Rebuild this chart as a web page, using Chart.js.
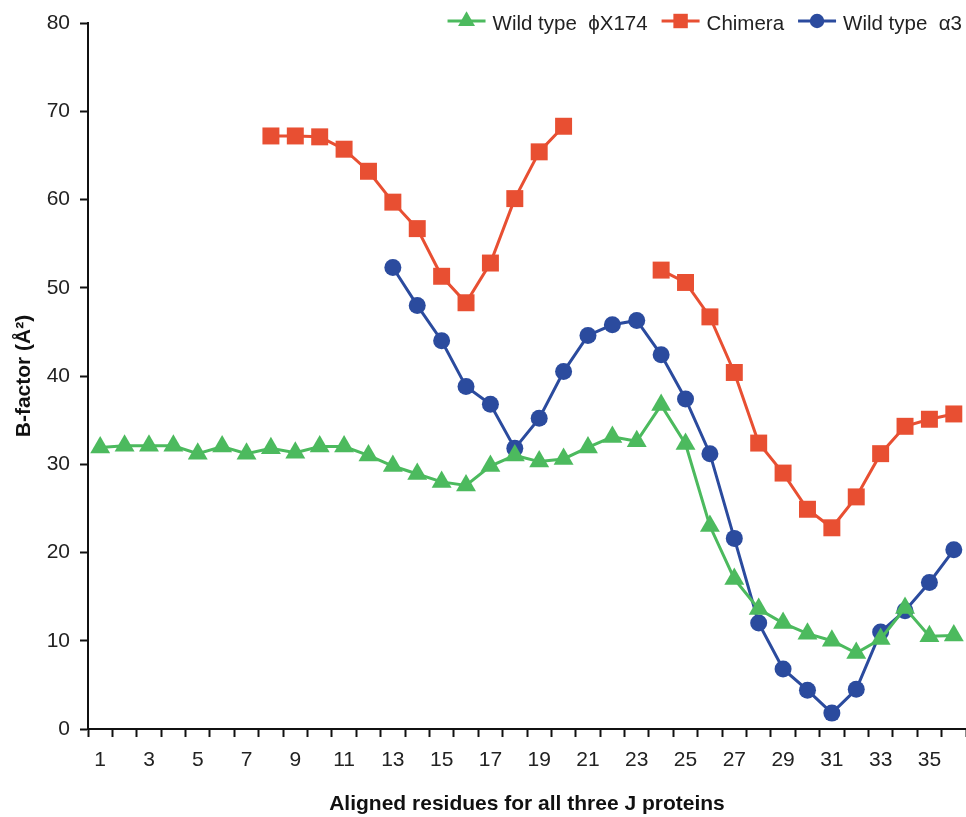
<!DOCTYPE html>
<html>
<head>
<meta charset="utf-8">
<script src="https://cdn.jsdelivr.net/npm/chart.js@4.4.1/dist/chart.umd.min.js"></script>
<style>
  html, body { margin: 0; padding: 0; background: #fff; }
  #wrap { width: 966px; height: 817px; }
</style>
</head>
<body>
<div id="wrap"><canvas id="chart"></canvas></div>
<script>
// aligned residue positions 1..36
const residues = ['1','2','3','4','5','6','7','8','9','10','11','12','13','14','15','16','17','18',
  '19','20','21','22','23','24','25','26','27','28','29','30','31','32','33','34','35','36'];

const seriesNames = ['Wild type  \u03d5X174', 'Chimera', 'Wild type  \u03b13'];

// B-factor values (null = no residue)
const phiX174 = [31.9, 32.1, 32.1, 32.1, 31.2, 32.0, 31.2, 31.8, 31.3, 32.0, 32.0, 31.0, 29.8, 28.9,
  28.0, 27.6, 29.8, 31.0, 30.3, 30.6, 31.9, 33.1, 32.6, 36.7, 32.3, 23.0, 17.0, 13.6, 12.0, 10.8,
  10.0, 8.6, 10.2, 13.7, 10.5, 10.6];

const chimera = [null, null, null, null, null, null, null, 67.2, 67.2, 67.1, 65.7, 63.2, 59.7, 56.7,
  51.3, 48.3, 52.8, 60.1, 65.4, 68.3, null, null, null, 52.0, 50.6, 46.7, 40.4, 32.4, 29.0, 24.9,
  22.8, 26.3, 31.2, 34.3, 35.1, 35.7];

const alpha3 = [null, null, null, null, null, null, null, null, null, null, null, null, 52.3, 48.0,
  44.0, 38.8, 36.8, 31.8, 35.2, 40.5, 44.6, 45.8, 46.3, 42.4, 37.4, 31.2, 21.6, 12.0, 6.8, 4.4,
  1.8, 4.5, 11.0, 13.4, 16.6, 20.3];

const yTicks = [0, 10, 20, 30, 40, 50, 60, 70, 80];

const GREEN = '#4cba5e';
const RED = '#e84f32';
const BLUE = '#2b4b9e';
const FONT = '"Liberation Sans", Arial, Helvetica, sans-serif';

function drawMarker(ctx, style, r, x, y) {
  ctx.beginPath();
  if (style === 'triangle') {
    ctx.moveTo(x, y - r);
    ctx.lineTo(x + r * 0.866, y + r * 0.5);
    ctx.lineTo(x - r * 0.866, y + r * 0.5);
    ctx.closePath();
  } else if (style === 'rect') {
    const h = r * Math.SQRT1_2;
    ctx.rect(x - h, y - h, 2 * h, 2 * h);
  } else {
    ctx.arc(x, y, r, 0, Math.PI * 2);
  }
  ctx.fill();
}

// legend with a line + marker sample, laid over the top-right corner
const lineLegend = {
  id: 'lineLegend',
  afterDraw(chart) {
    const ctx = chart.ctx;
    const sets = chart.data.datasets;
    ctx.save();
    ctx.font = '20.5px ' + FONT;
    ctx.textBaseline = 'middle';
    const lineW = 38, gapText = 7, gapItem = 14;
    let total = 0;
    sets.forEach((ds, i) => {
      total += lineW + gapText + ctx.measureText(ds.label).width + (i < sets.length - 1 ? gapItem : 0);
    });
    let x = chart.width - 4 - total;
    const y = 21;
    sets.forEach(ds => {
      ctx.strokeStyle = ds.borderColor;
      ctx.lineWidth = 3;
      ctx.beginPath();
      ctx.moveTo(x, y);
      ctx.lineTo(x + lineW, y);
      ctx.stroke();
      ctx.fillStyle = ds.pointBackgroundColor;
      drawMarker(ctx, ds.pointStyle, ds.pointRadius * 0.85, x + lineW / 2, y);
      x += lineW + gapText;
      ctx.fillStyle = '#222';
      ctx.fillText(ds.label, x, y + 3);
      x += ctx.measureText(ds.label).width + gapItem;
    });
    ctx.restore();
  }
};

function series(label, data, color, style, radius) {
  return {
    label,
    data,
    borderColor: color,
    backgroundColor: color,
    pointBackgroundColor: color,
    pointBorderColor: color,
    pointBorderWidth: 0,
    pointStyle: style,
    pointRadius: radius,
    pointHoverRadius: radius,
    borderWidth: 3,
    tension: 0,
    spanGaps: false,
    fill: false
  };
}

new Chart(document.getElementById('chart'), {
  type: 'line',
  data: {
    labels: residues,
    datasets: [
      series(seriesNames[0], phiX174, GREEN, 'triangle', 11.5),
      series(seriesNames[1], chimera, RED, 'rect', 12),
      series(seriesNames[2], alpha3, BLUE, 'circle', 8.5)
    ]
  },
  options: {
    responsive: true,
    maintainAspectRatio: false,
    animation: false,
    layout: { autoPadding: false, padding: { top: 23, right: 0, left: 0, bottom: 0 } },
    plugins: {
      legend: { display: false },
      tooltip: { enabled: false }
    },
    scales: {
      x: {
        type: 'category',
        offset: true,
        border: { display: true, color: '#111', width: 2 },
        grid: {
          offset: true,
          drawOnChartArea: false,
          drawTicks: true,
          tickLength: 8,
          tickColor: '#111',
          tickWidth: 2
        },
        ticks: {
          autoSkip: false,
          maxRotation: 0,
          padding: 11,
          color: '#222',
          font: { family: FONT, size: 21 },
          callback: (v, i) => (i % 2 === 0 ? residues[i] : '')
        },
        title: {
          display: true,
          text: 'Aligned residues for all three J proteins',
          color: '#111',
          font: { family: FONT, size: 21, weight: 'bold' },
          padding: { top: 0, bottom: 0 }
        },
        afterFit: s => { s.height = 88; }
      },
      y: {
        min: 0,
        max: 80,
        border: { display: true, color: '#111', width: 2 },
        grid: {
          drawOnChartArea: false,
          drawTicks: true,
          tickLength: 8,
          tickColor: '#111',
          tickWidth: 2
        },
        afterBuildTicks: s => { s.ticks = yTicks.map(v => ({ value: v })); },
        ticks: {
          padding: 10,
          color: '#222',
          font: { family: FONT, size: 21 }
        },
        title: {
          display: true,
          text: 'B-factor (\u00c5\u00b2)',
          color: '#111',
          font: { family: FONT, size: 21, weight: 'bold' },
          padding: { top: 12, bottom: 0 }
        },
        afterFit: s => { s.width = 88; }
      }
    }
  },
  plugins: [lineLegend]
});
</script>
</body>
</html>
